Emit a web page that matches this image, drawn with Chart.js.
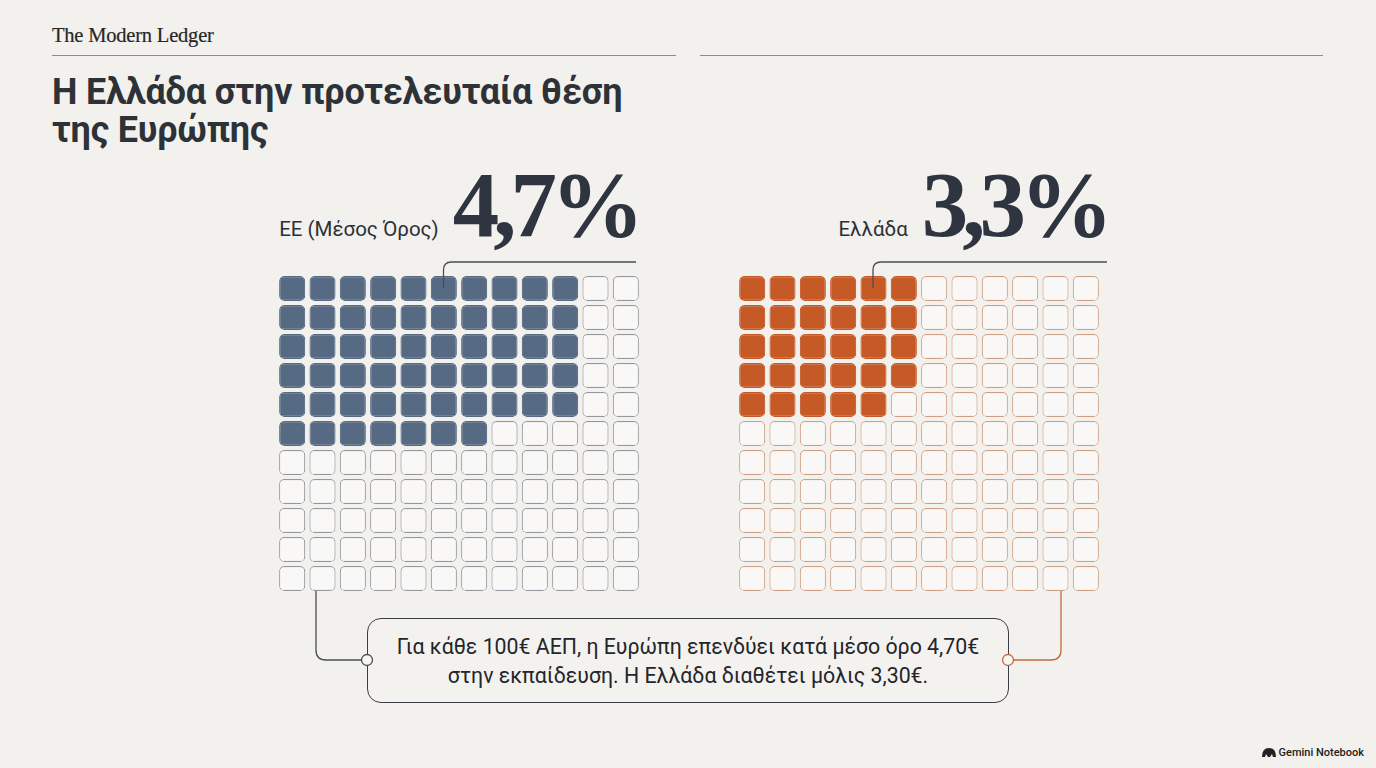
<!DOCTYPE html>
<html lang="el">
<head>
<meta charset="utf-8">
<title>Η Ελλάδα στην προτελευταία θέση της Ευρώπης</title>
<script src="https://cdn.jsdelivr.net/npm/chart.js@4.4.1/dist/chart.umd.min.js"></script>
<style>
  html, body { margin: 0; padding: 0; }
  body {
    width: 1376px; height: 768px; overflow: hidden; position: relative;
    background: #f3f1ed; color: #2c3036; font-family: Roboto, "Noto Sans", sans-serif;
  }
  .abs { position: absolute; }
  .brand { left: 52px; top: 24px; font: 20.5px "Liberation Serif", "DejaVu Serif", serif; color: #262626; letter-spacing: -0.2px; -webkit-text-stroke: 0.2px #262626; }
  .rule { height: 1px; background: #8d8d8d; top: 55px; }
  .title { left: 52px; top: 73px; font-weight: 700; font-size: 36px; line-height: 38px; color: #2d3238; letter-spacing: -0.15px; }
  .head { display: flex; align-items: baseline; justify-content: flex-end; top: 160px; height: 90px; }
  .head .lbl { font-size: 20.5px; color: #2c3036; margin-right: 14px; }
  .head .num { font: 700 93px/90px "Liberation Serif", "DejaVu Serif", serif; color: #2f3540; letter-spacing: -6px; margin-right: -2px; }
  .grid { width: 364px; height: 319px; top: 274px; }
  .note {
    left: 367px; top: 618px; width: 642px; height: 85px; box-sizing: border-box;
    border: 1.5px solid #3b3e44; border-radius: 14px; background: #f4f2ef;
    display: flex; align-items: center; justify-content: center; text-align: center;
    font-size: 21.3px; line-height: 29px; color: #23262b;
  }
  svg.over { left: 0; top: 0; z-index: 5; pointer-events: none; }
  .mark { right: 12px; top: 746px; font-size: 11px; font-weight: 500; color: #222; display: flex; align-items: center; }
</style>
</head>
<body>
<div class="abs brand">The Modern Ledger</div>
<div class="abs rule" style="left:52px;width:624px"></div>
<div class="abs rule" style="left:700px;width:623px"></div>
<div class="abs title">Η Ελλάδα στην προτελευταία θέση<br>της Ευρώπης</div>

<div class="abs head" style="right:740px"><span class="lbl" id="lblEU"></span><span class="num" id="numEU"></span></div>
<div class="abs head" style="right:271px"><span class="lbl" id="lblGR"></span><span class="num" id="numGR"></span></div>

<div class="abs grid" style="left:277px"><canvas id="gridEU"></canvas></div>
<div class="abs grid" style="left:737px"><canvas id="gridGR"></canvas></div>

<div class="abs note">Για κάθε 100€ ΑΕΠ, η Ευρώπη επενδύει κατά μέσο όρο 4,70€<br>στην εκπαίδευση. Η Ελλάδα διαθέτει μόλις 3,30€.</div>

<svg class="abs over" width="1376" height="768" viewBox="0 0 1376 768">
  <g fill="none" stroke="#4a4d52" stroke-width="1.3">
    <path d="M443.5 288 V270 Q443.5 262 451.5 262 H636"/>
    <path d="M316 591 V650 Q316 660 326 660 H361"/>
    <path d="M873 288 V270 Q873 262 881 262 H1107"/>
  </g>
  <path d="M1061 591 V650 Q1061 660 1051 660 H1014" fill="none" stroke="#c06a3e" stroke-width="1.3"/>
  <circle cx="367" cy="660" r="5.5" fill="#f7f6f3" stroke="#4a4d52" stroke-width="1.3"/>
  <circle cx="1008" cy="660" r="5.5" fill="#f7f6f3" stroke="#c06a3e" stroke-width="1.3"/>
</svg>

<div class="abs mark"><svg width="14" height="9" viewBox="0 0 14 9" style="margin-right:3px"><path d="M0 9 Q0 0 7 0 Q14 0 14 9 L11 9 L10 6 L8 9 L6 9 L4 6 L3 9 Z" fill="#222"/></svg>Gemini Notebook</div>

<script>
// waffle: 12 columns x 11 rows, filled squares per row
const columns = ["1", "2", "3", "4", "5", "6", "7", "8", "9", "10", "11", "12"];
const rowCount = 11;
const euFilledPerRow = [10, 10, 10, 10, 10, 7, 0, 0, 0, 0, 0];
const grFilledPerRow = [6, 6, 6, 6, 5, 0, 0, 0, 0, 0, 0];
const euLabel = "ΕΕ (Μέσος Όρος)";
const grLabel = "Ελλάδα";
const euValue = "4,7%";
const grValue = "3,3%";

document.getElementById("lblEU").textContent = euLabel;
document.getElementById("numEU").textContent = euValue;
document.getElementById("lblGR").textContent = grLabel;
document.getElementById("numGR").textContent = grValue;

function waffle(id, filledPerRow, fill, emptyBorder) {
  let datasets = [];
  for (let r = 0; r < rowCount; r++) {
    let vals = [];
    let bg = [];
    let bd = [];
    for (let c = 0; c < columns.length; c++) {
      vals.push([r + 0.07, r + 0.93]);
      const on = c < filledPerRow[r];
      bg.push(on ? fill : "#f9f8f6");
      bd.push(on ? fill : emptyBorder);
    }
    datasets.push({
      label: "row " + (r + 1),
      data: vals,
      backgroundColor: bg,
      borderColor: bd,
      borderWidth: 1.1,
      borderRadius: 5,
      borderSkipped: false,
      grouped: false,
      categoryPercentage: 1,
      barPercentage: 0.86
    });
  }
  return new Chart(document.getElementById(id), {
    type: "bar",
    data: { labels: columns, datasets: datasets },
    options: {
      responsive: true,
      maintainAspectRatio: false,
      animation: false,
      layout: { padding: 0 },
      plugins: { legend: { display: false }, tooltip: { enabled: false } },
      scales: {
        x: { display: false },
        y: { display: false, min: 0, max: rowCount, reverse: true }
      }
    }
  });
}

waffle("gridEU", euFilledPerRow, "#566a83", "#94989e");
waffle("gridGR", grFilledPerRow, "#c65a27", "#cf9f84");
</script>
</body>
</html>
